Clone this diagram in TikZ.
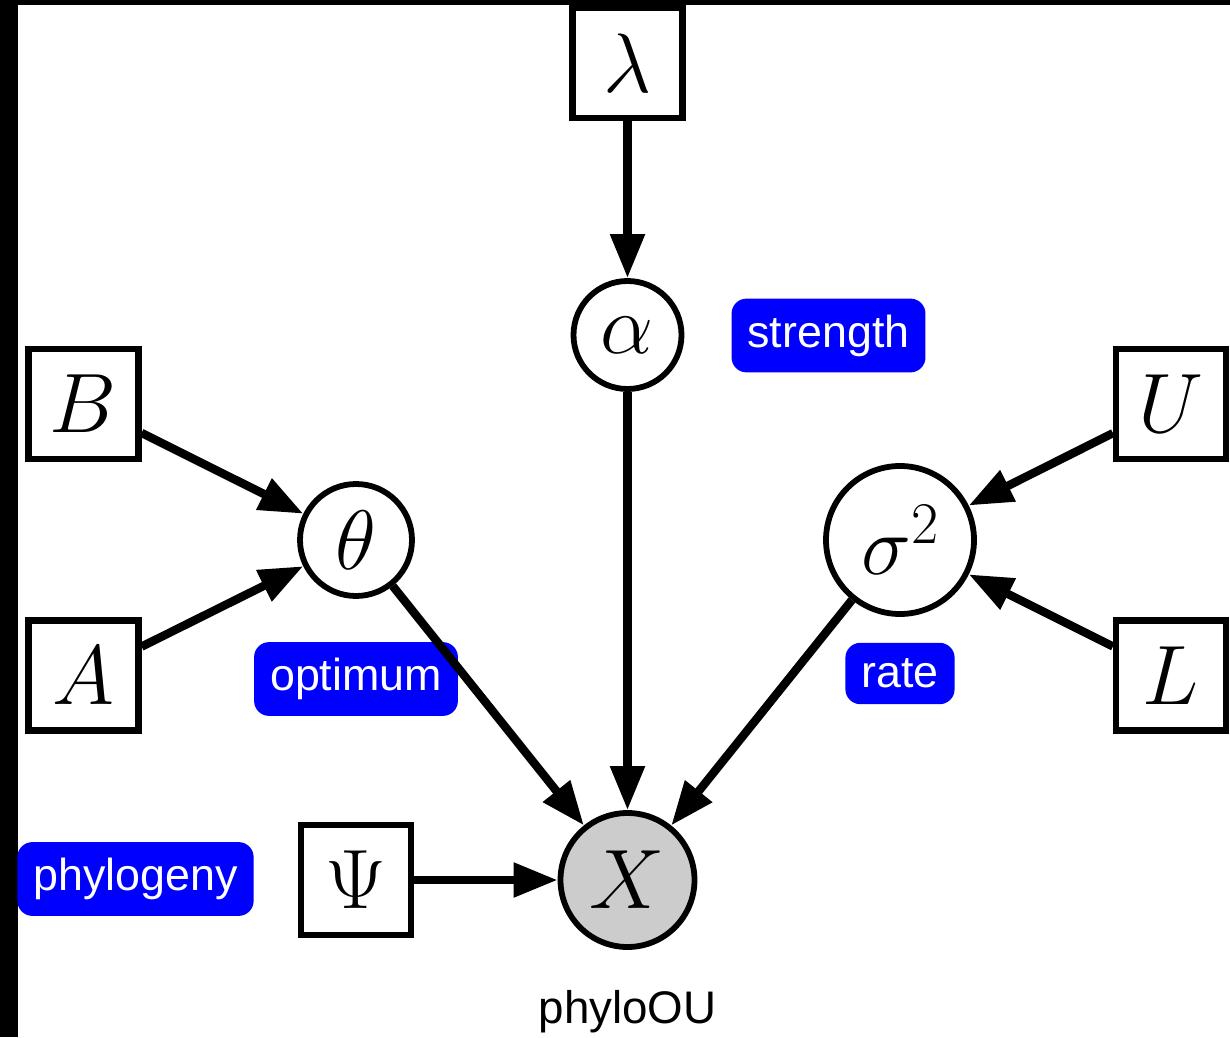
\RequirePackage{fix-cm}
\documentclass[tikz,border=0pt]{standalone}
\usepackage{fontspec}
\setsansfont{Liberation Sans}
\usetikzlibrary{arrows.meta}

\begin{document}
\begin{tikzpicture}[>={Triangle[length=0.88cm, width=0.66cm]}, line width=4.8pt,
    fixed/.style={rectangle, draw, line width=3.5pt, minimum size=2.2cm, inner sep=0pt, font=\fontsize{48}{58}\selectfont},
    rv/.style={circle, draw, line width=3.3pt, inner sep=0pt, font=\fontsize{48}{58}\selectfont},
    tag/.style={rectangle, rounded corners=0.3cm, fill={rgb,255:red,0;green,0;blue,255}, text=white, font=\sffamily\fontsize{25.5}{30}\selectfont, inner xsep=0.32cm, inner ysep=0.32cm}]
    \useasboundingbox (0, 0) rectangle (24.6, 20.74);
    % Frame edges
    \fill[black] (0, 0) rectangle (0.36, 20.74);
    \fill[black] (0, 20.64) rectangle (24.6, 20.74);

    % Define vertices
    \node[fixed] (lambda) at (12.55, 19.48) {$\lambda$};
    \node[rv, minimum size=2.16cm] (alpha) at (12.55, 14.04) {$\alpha$};
    \node[fixed] (B) at (1.67, 12.66) {$B$};
    \node[fixed] (A) at (1.67, 7.23) {$A$};
    \node[rv, minimum size=2.24cm] (theta) at (7.12, 9.94) {$\theta$};
    \node[fixed] (U) at (23.42, 12.66) {$U$};
    \node[fixed] (L) at (23.42, 7.23) {$L$};
    \node[rv, minimum size=2.96cm] (sigma) at (18.0, 9.94) {$\sigma^2$};
    \node[fixed] (Psi) at (7.12, 3.14) {$\Psi$};
    \node[rv, fill=black!20, minimum size=2.68cm] (X) at (12.55, 3.14) {$X$};

    % Labels
    \node[tag] (strength) at (16.57, 14.03) {strength};
    \node[tag] (optimum) at (7.12, 7.16) {optimum};
    \node[tag] (rate) at (18.0, 7.27) {rate};
    \node[tag] (phylogeny) at (2.71, 3.16) {phylogeny};
    \node[anchor=base, font=\sffamily\fontsize{26}{30}\selectfont] (model) at (12.55, 0.28) {phyloOU};

    % Draw edges
    \draw[->] (lambda) -- (alpha); % lambda -> alpha
    \draw[->] (alpha) -- (X); % alpha -> X
    \draw[->] (B) -- (theta); % B -> theta
    \draw[->] (A) -- (theta); % A -> theta
    \draw[->] (theta) -- (X); % theta -> X
    \draw[->] (U) -- (sigma); % U -> sigma
    \draw[->] (L) -- (sigma); % L -> sigma
    \draw[->] (sigma) -- (X); % sigma -> X
    \draw[->] (Psi) -- (X); % Psi -> X
\end{tikzpicture}
\end{document}
